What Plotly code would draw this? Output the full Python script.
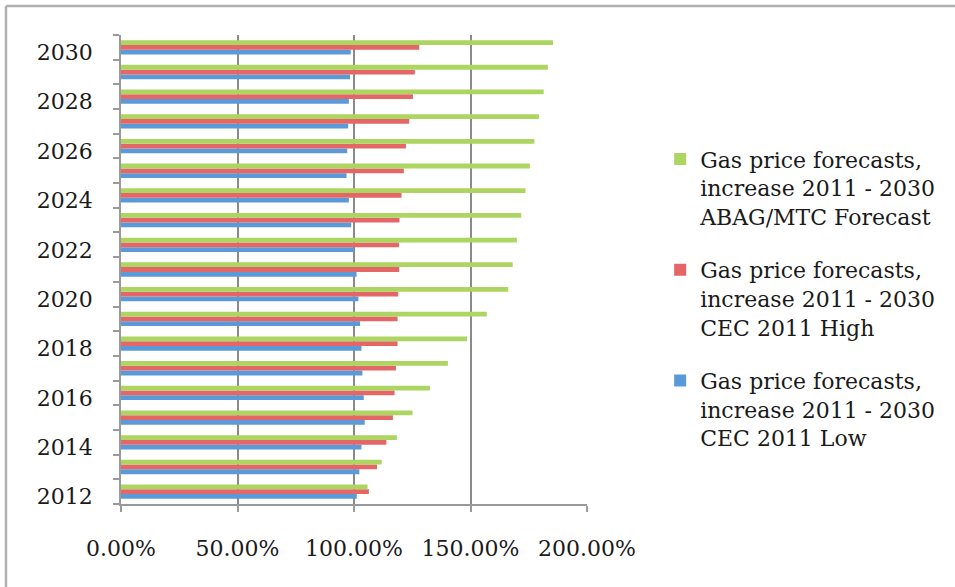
import plotly.graph_objects as go

# Forecast years and price increase relative to 2011 (1.0 = 100%)
years = list(range(2012, 2031))

abag_mtc = [1.058, 1.119, 1.184, 1.251, 1.326, 1.403, 1.485, 1.570, 1.662, 1.681,
            1.699, 1.718, 1.736, 1.755, 1.774, 1.794, 1.814, 1.832, 1.854]
cec_high = [1.064, 1.099, 1.139, 1.167, 1.174, 1.180, 1.187, 1.187, 1.190, 1.194,
            1.193, 1.195, 1.204, 1.214, 1.223, 1.237, 1.253, 1.261, 1.280]
cec_low = [1.012, 1.023, 1.032, 1.046, 1.042, 1.036, 1.032, 1.026, 1.019, 1.011,
           0.999, 0.988, 0.978, 0.968, 0.971, 0.975, 0.978, 0.983, 0.986]

year_ticks = list(range(2012, 2031, 2))
pct_ticks = [0, 0.5, 1.0, 1.5, 2.0]

series_label = "Gas price forecasts,<br>increase 2011 - 2030<br>"
FONT = "DejaVu Serif"

fig = go.Figure()
# Added bottom-to-top within each year group: low, high, ABAG/MTC;
# legendrank lists them top-to-bottom in the opposite order.
fig.add_trace(go.Bar(y=years, x=cec_low, orientation="h",
                     name=series_label + "CEC 2011 Low",
                     legendgroup="low", legendrank=1003,
                     marker=dict(color="#5b9ad8", line=dict(width=0))))
fig.add_trace(go.Bar(y=years, x=cec_high, orientation="h",
                     name=series_label + "CEC 2011 High",
                     legendgroup="high", legendrank=1002,
                     marker=dict(color="#e46666", line=dict(width=0))))
fig.add_trace(go.Bar(y=years, x=abag_mtc, orientation="h",
                     name=series_label + "ABAG/MTC Forecast",
                     legendgroup="abag", legendrank=1001,
                     marker=dict(color="#acd562", line=dict(width=0))))

fig.update_layout(
    width=955, height=587,
    margin=dict(l=121, r=368, t=35, b=83),
    paper_bgcolor="white", plot_bgcolor="white",
    barmode="group", bargap=0.42, bargroupgap=0,
    font=dict(family=FONT, size=22, color="#1a1a1a"),
    showlegend=True,
    legend=dict(
        x=1.157, xanchor="left", y=0.78, yanchor="top",
        traceorder="grouped", valign="top", tracegroupgap=22,
        font=dict(family=FONT, size=22, color="#1a1a1a"),
        bgcolor="rgba(0,0,0,0)", itemwidth=30,
    ),
    xaxis=dict(
        range=[0, 2.0], tickvals=pct_ticks, tickformat=".2%",
        showgrid=True, gridcolor="#8a8a8a", gridwidth=1.6,
        showline=True, linecolor="#9a9a9a", linewidth=1.6,
        ticks="outside", ticklen=6, tickcolor="#9a9a9a", tickwidth=1.6,
        ticklabelstandoff=18, zeroline=False,
        tickfont=dict(family=FONT, size=22, color="#1a1a1a"),
    ),
    yaxis=dict(
        range=[2011.5, 2030.5], tickvals=year_ticks,
        showgrid=False, zeroline=False,
        showline=True, linecolor="#9a9a9a", linewidth=1.6,
        ticks="", ticklabelstandoff=22, ticklabelshift=5,
        minor=dict(tick0=2011.5, dtick=1, ticks="outside", ticklen=6,
                   tickcolor="#9a9a9a", tickwidth=1.6, showgrid=False),
        tickfont=dict(family=FONT, size=22, color="#1a1a1a"),
    ),
    shapes=[
        # Frame along the top and left edges of the chart area
        dict(type="line", xref="paper", yref="paper", x0=-0.2468, x1=1.8,
             y0=1.062, y1=1.062, line=dict(color="#b0b0b0", width=2.5)),
        dict(type="line", xref="paper", yref="paper", x0=-0.2468, x1=-0.2468,
             y0=1.062, y1=-0.3, line=dict(color="#b0b0b0", width=2.5)),
    ],
)

fig.write_html("out.html")
